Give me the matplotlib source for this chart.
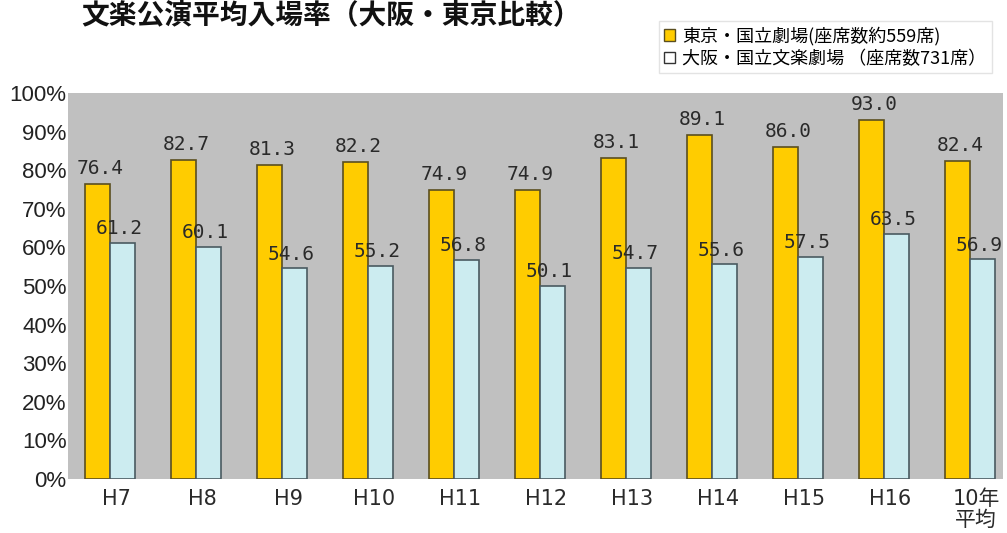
import numpy as np
import matplotlib.pyplot as plt
from matplotlib.patches import Patch

plt.rcParams['font.family'] = ['Noto Sans CJK JP', 'DejaVu Sans']

# 年度ごとの入場率 (%)
categorias = ["H7", "H8", "H9", "H10", "H11", "H12", "H13", "H14", "H15", "H16", "10年\n平均"]
tokyo = [76.4, 82.7, 81.3, 82.2, 74.9, 74.9, 83.1, 89.1, 86.0, 93.0, 82.4]
osaka = [61.2, 60.1, 54.6, 55.2, 56.8, 50.1, 54.7, 55.6, 57.5, 63.5, 56.9]

etiqueta_tokyo = "東京・国立劇場(座席数約559席)"
etiqueta_osaka = "大阪・国立文楽劇場 （座席数731席）"
titulo = "文楽公演平均入場率（大阪・東京比較）"

x = np.arange(len(categorias))
ancho = 0.29

fig = plt.figure(figsize=(10.07, 5.33), dpi=100)
ax = fig.add_axes([0.0675, 0.1013, 0.9285, 0.7242])
ax.set_facecolor("#C0C0C0")

ax.bar(x - ancho / 2, tokyo, ancho, color="#FFCC00", edgecolor="#5A4E20", linewidth=1.2)
ax.bar(x + ancho / 2, osaka, ancho, color="#CCECF0", edgecolor="#4A5A60", linewidth=1.2)

for xi, v in zip(x, tokyo):
    ax.text(xi - ancho / 2 + 0.03, v + 1.5, f"{v:.1f}", ha="center", va="bottom",
            fontsize=14, family="DejaVu Sans Mono", color="#2A2A2A")
for xi, v in zip(x, osaka):
    ax.text(xi + ancho / 2 - 0.04, v + 1.2, f"{v:.1f}", ha="center", va="bottom",
            fontsize=14, family="DejaVu Sans Mono", color="#2A2A2A")

ax.set_xlim(-0.49, 10.38)
ax.set_ylim(0, 100)
ax.set_yticks(np.arange(0, 101, 10))
ax.set_yticklabels([f"{v}%" for v in range(0, 101, 10)], fontsize=16,
                   family="Liberation Sans", color="#222222")
ax.set_xticks(x + 0.07)
ax.set_xticklabels(categorias, fontsize=15, color="#2A2A2A", linespacing=1.05,
                   family=["DejaVu Sans", "Noto Sans CJK JP"])
ax.tick_params(length=0)
ax.tick_params(axis="y", pad=1)
ax.tick_params(axis="x", pad=7)
for s in ax.spines.values():
    s.set_visible(False)

fig.text(0.081, 0.972, titulo, fontsize=20, fontweight="bold", va="center", color="#111111")

handles = [Patch(facecolor="#FFCC00", edgecolor="#5A4E20"),
           Patch(facecolor="white", edgecolor="#333333")]
fig.legend(handles, [etiqueta_tokyo, etiqueta_osaka], loc="upper right",
           bbox_to_anchor=(0.994, 0.977), fontsize=13, frameon=True, fancybox=False,
           edgecolor="#DDDDDD", handlelength=0.6, handleheight=0.6, handletextpad=0.4,
           borderpad=0.3, labelspacing=0.25)

fig.savefig("out.png", dpi=100)
